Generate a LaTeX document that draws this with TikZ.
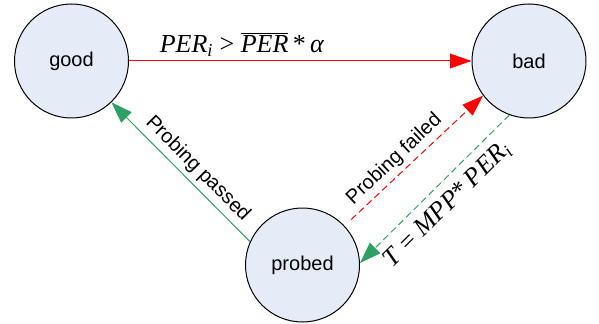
\documentclass[tikz,border=0pt]{standalone}
\usepackage{fontspec}
\setmainfont{Liberation Sans}
\newfontfamily\timesfont{Liberation Serif}
\usepackage{tikz}
\usetikzlibrary{arrows.meta,positioning}
\definecolor{statefill}{RGB}{230,236,247}
\definecolor{passgreen}{RGB}{46,160,100}
\tikzset{
    >={Triangle[length=16pt,width=11pt]},
    state/.style={
        circle,
        draw=black, line width=0.75pt,
        fill=statefill,
        minimum size=85.5pt,
        inner sep=0pt,
        font={\fontsize{15pt}{18}\selectfont}
    },
    redline/.style={draw=red, line width=0.75pt, ->},
    greenline/.style={draw=passgreen, line width=0.75pt, ->},
    dashes/.style={dash pattern=on 5pt off 3pt},
    lbl/.style={sloped, font={\fontsize{15pt}{18}\selectfont}},
    formula/.style={font={\timesfont\fontsize{19.5pt}{22}\selectfont}, inner sep=3pt},
}
\newcommand{\tvar}[1]{\textit{#1}}

\begin{document}
\begin{tikzpicture}[x=0.75pt, y=-0.75pt]
\useasboundingbox (0,0) rectangle (599,324);
\node[state] (good) at (71.5,61) {good};
\node[state] (bad) at (529,61) {bad};
\node[state] (probed) at (302.5,265) {probed};
% transitions
\draw[redline] (good) -- node[formula, above, pos=0.33]
    {\tvar{PER}\textsubscript{\tvar{i}} > $\overline{\hbox{\tvar{PER}}}$\,*\,\tvar{α}} (bad);
\draw[greenline] (probed.156) -- node[lbl, above, pos=0.45] {Probing passed} (good.314);
\draw[redline, dashes, shorten <=6.75pt] (probed.43) -- node[lbl, above, pos=0.43] {Probing failed} (bad.217);
\draw[greenline, dashes] (bad.250) -- node[formula, sloped, below, pos=0.51, inner sep=7pt]
    {\tvar{T} = \tvar{MPP}*\,\tvar{PER}\textsubscript{\tvar{i}}} (probed.2);
\end{tikzpicture}
\end{document}
